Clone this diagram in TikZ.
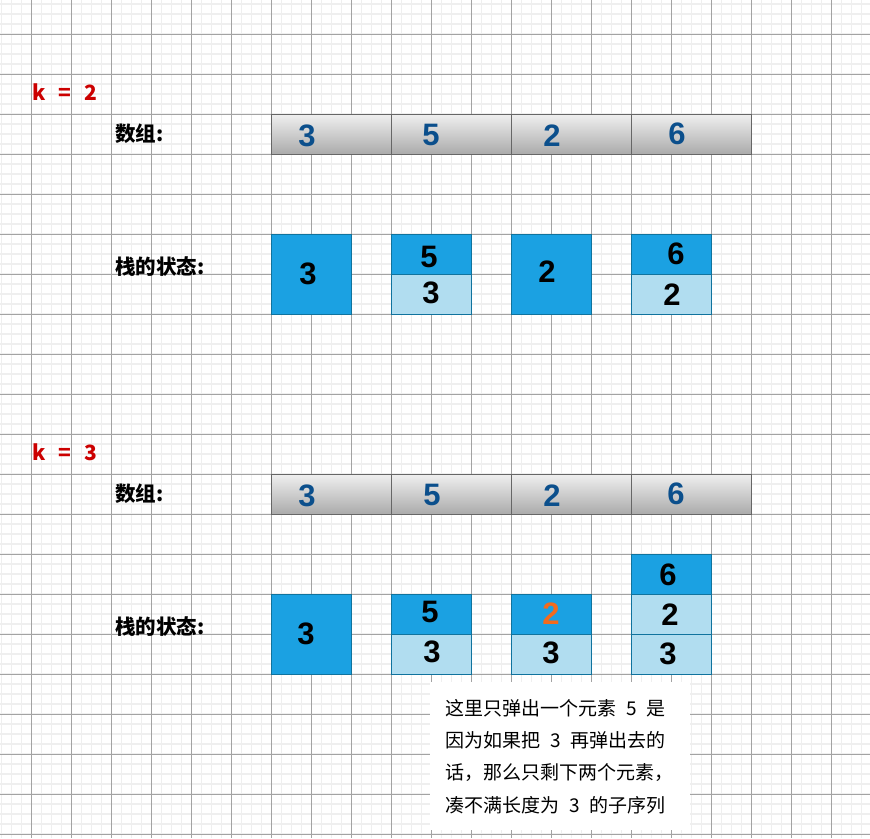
\documentclass[tikz,border=0pt]{standalone}
\usepackage{fontspec}
\newfontfamily\cjk{Noto Sans CJK SC}
\newfontfamily\digf{Liberation Sans}
\definecolor{dkblue}{HTML}{1BA1E2}
\definecolor{ltblue}{HTML}{B1DDF0}
\definecolor{bdblue}{HTML}{10739E}
\definecolor{arrdig}{HTML}{0B4F8C}
\definecolor{kred}{HTML}{CC0000}
\definecolor{orng}{HTML}{F26B1D}
\definecolor{minorc}{HTML}{EFEFEF}
\definecolor{majorc}{HTML}{A3A3A3}
\begin{document}
\begin{tikzpicture}[x=1pt,y=-1pt,
  minorline/.style={draw=minorc,line width=1.8pt},
  majorline/.style={draw=majorc,line width=1pt},
  arrcell/.style={draw=black!60,line width=1pt,top color=black!6,bottom color=black!33,minimum width=120pt,minimum height=40pt,inner sep=0pt},
  dkcell/.style={draw=bdblue,line width=1pt,fill=dkblue,minimum width=80pt,inner sep=0pt},
  ltcell/.style={draw=bdblue,line width=1pt,fill=ltblue,minimum width=80pt,minimum height=40pt,inner sep=0pt},
  adig/.style={text=arrdig,font=\digf\bfseries\fontsize{31}{31}\selectfont,inner sep=0pt},
  sdig/.style={text=black,font=\digf\bfseries\fontsize{31}{31}\selectfont,inner sep=0pt},
  lbl/.style={anchor=west,font=\cjk\bfseries\fontsize{20.5}{22}\selectfont,inner sep=0pt},
  klbl/.style={anchor=west,text=kred,font=\cjk\bfseries\fontsize{21}{22}\selectfont,inner sep=0pt},
  note/.style={anchor=west,font=\cjk\fontsize{19}{20}\selectfont,inner sep=0pt}]
\useasboundingbox (0,0) rectangle (870,838);
\fill[white] (0,0) rectangle (870,838);
% grid
\foreach \i in {0,...,87} \draw[minorline] (1.5+10*\i,0) -- (1.5+10*\i,838);
\foreach \j in {0,...,83} \draw[minorline] (0,4.3+10*\j) -- (870,4.3+10*\j);
\foreach \i in {0,...,21} \draw[majorline] (31.5+40*\i,0) -- (31.5+40*\i,838);
\foreach \j in {0,...,20} \draw[majorline] (0,34.3+40*\j) -- (870,34.3+40*\j);

% ---------- k = 2 ----------
\node[klbl] (k2) at (32,92) {k\hspace{13pt}=\hspace{13pt}2};
\node[lbl] (arrlbl1) at (115,134) {数组:};
\node[lbl] (stlbl1) at (115,267) {栈的状态:};
\node[arrcell] (a11) at (331,134) {};
\node[arrcell] (a12) at (451,134) {};
\node[arrcell] (a13) at (571,134) {};
\node[arrcell] (a14) at (691,134) {};
\node[adig] (d11) at (307,136) {3};
\node[adig] (d12) at (431,135) {5};
\node[adig] (d13) at (552,136) {2};
\node[adig] (d14) at (677,134) {6};

\node[dkcell,minimum height=80pt] (s11) at (311,274) {};
\node[sdig] at (308,274) {3};
\node[dkcell,minimum height=40pt] (s12t) at (431,254) {};
\node[ltcell] (s12b) at (431,294) {};
\node[sdig] at (429,257) {5};
\node[sdig] at (431,293) {3};
\node[dkcell,minimum height=80pt] (s13) at (551,274) {};
\node[sdig] at (547,272) {2};
\node[dkcell,minimum height=40pt] (s14t) at (671,254) {};
\node[ltcell] (s14b) at (671,294) {};
\node[sdig] at (676,254) {6};
\node[sdig] at (672,295) {2};

% ---------- k = 3 ----------
\node[klbl] (k3) at (32,452) {k\hspace{13pt}=\hspace{13pt}3};
\node[lbl] (arrlbl2) at (115,494) {数组:};
\node[lbl] (stlbl2) at (115,627) {栈的状态:};
\node[arrcell] (a21) at (331,494) {};
\node[arrcell] (a22) at (451,494) {};
\node[arrcell] (a23) at (571,494) {};
\node[arrcell] (a24) at (691,494) {};
\node[adig] (d21) at (307,496) {3};
\node[adig] (d22) at (432,495) {5};
\node[adig] (d23) at (552,496) {2};
\node[adig] (d24) at (676,494) {6};

\node[dkcell,minimum height=80pt] (s21) at (311,634) {};
\node[sdig] at (306,634) {3};
\node[dkcell,minimum height=40pt] (s22t) at (431,614) {};
\node[ltcell] (s22b) at (431,654) {};
\node[sdig] at (430,612) {5};
\node[sdig] at (432,652) {3};
\node[dkcell,minimum height=40pt] (s23t) at (551,614) {};
\node[ltcell] (s23b) at (551,654) {};
\node[sdig,text=orng] at (551,614) {2};
\node[sdig] at (551,653) {3};
\node[dkcell,minimum height=40pt] (s24t) at (671,574) {};
\node[ltcell] (s24m) at (671,614) {};
\node[ltcell] (s24b) at (671,654) {};
\node[sdig] at (668,575) {6};
\node[sdig] at (670,615) {2};
\node[sdig] at (668,654) {3};

% ---------- note ----------
\node[fill=white,minimum width=260pt,minimum height=148pt,inner sep=0pt] (notebox) at (560,756) {};
\node[note] (n1) at (445,708) {这里只弹出一个元素\hspace{10pt}5\hspace{10pt}是};
\node[note] (n2) at (445,740) {因为如果把\hspace{10pt}3\hspace{10pt}再弹出去的};
\node[note] (n3) at (445,773) {话，那么只剩下两个元素，};
\node[note] (n4) at (445,805) {凑不满长度为\hspace{10pt}3\hspace{10pt}的子序列};
\end{tikzpicture}
\end{document}
